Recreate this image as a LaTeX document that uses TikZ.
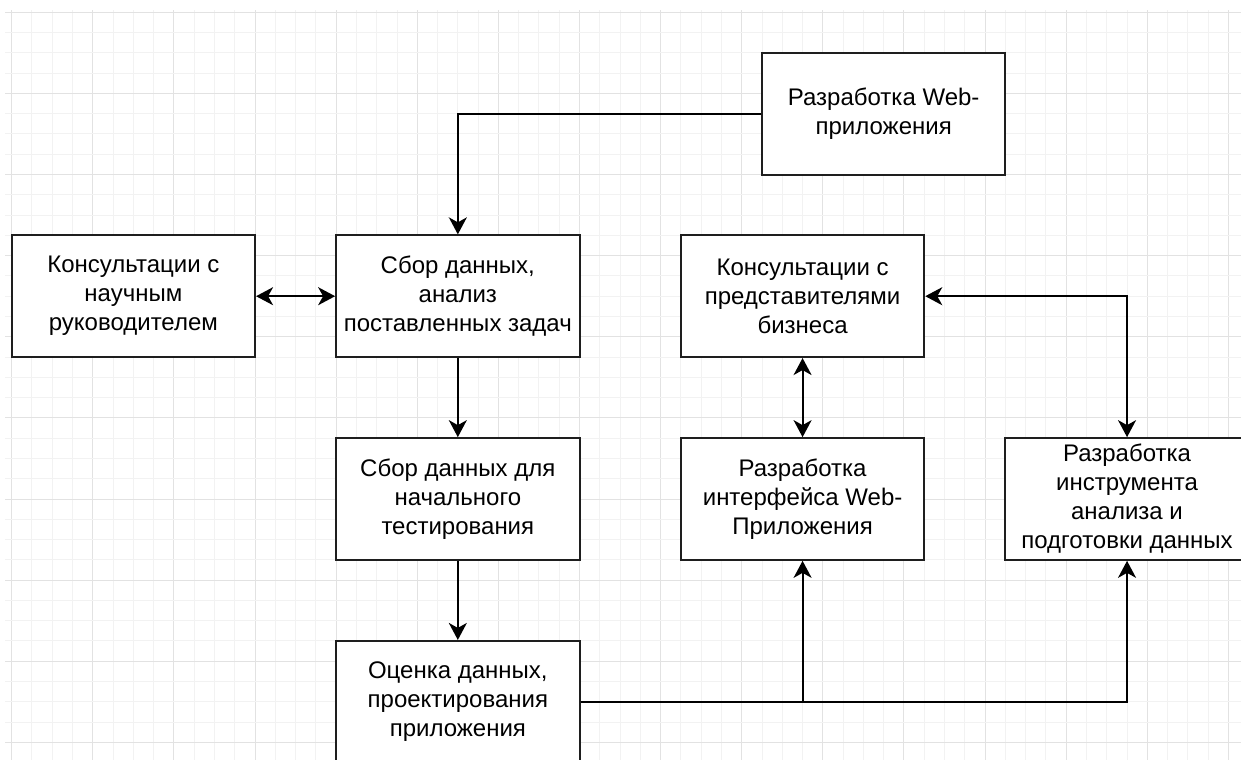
\documentclass[tikz,border=0pt]{standalone}
\usepackage{fontspec}
\setmainfont{Liberation Sans}
\usetikzlibrary{arrows.meta}
\definecolor{gridminor}{RGB}{242,242,242}
\definecolor{gridmajor}{RGB}{226,226,226}
\definecolor{boxline}{RGB}{30,30,30}
\begin{document}
\begin{tikzpicture}[x=20.28pt,y=-20.28pt,
  box/.style={draw=boxline,line width=2pt,fill=white,minimum width=243.4pt,minimum height=121.7pt,inner sep=0pt,align=center,font=\fontsize{24}{29}\selectfont},
  conn/.style={line width=2pt,-{Stealth[length=17pt,width=18pt,inset=5pt]}},
  bconn/.style={line width=2pt,{Stealth[length=17pt,width=18pt,inset=5pt]}-{Stealth[length=17pt,width=18pt,inset=5pt]}}]
\useasboundingbox (-0.577,-0.607) rectangle (60.62,36.87);
\clip (-0.577,-0.607) rectangle (60.62,36.87);
% grid
\foreach \i in {0,...,60}{
  \pgfmathtruncatemacro{\m}{mod(\i,4)}
  \ifnum\m=0 \def\gc{gridmajor}\else\def\gc{gridminor}\fi
  \draw[\gc,line width=1pt] (\i,-0.12) -- (\i,37.5);
}
\foreach \j in {0,...,36}{
  \pgfmathtruncatemacro{\m}{mod(\j,4)}
  \ifnum\m=0 \def\gc{gridmajor}\else\def\gc{gridminor}\fi
  \draw[\gc,line width=1pt] (-0.33,\j) -- (61.5,\j);
}
% boxes
\node[box] (b1) at (43,5) {Разработка Web-\\приложения};
\node[box] (b2) at (6,14) {Консультации с\\научным\\руководителем};
\node[box] (b3) at (22,14) {Сбор данных,\\анализ\\поставленных задач};
\node[box] (b4) at (39,14) {Консультации с\\представителями\\бизнеса};
\node[box] (b5) at (22,24) {Сбор данных для\\начального\\тестирования};
\node[box] (b6) at (39,24) {Разработка\\интерфейса Web-\\Приложения};
\node[box] (b7) at (55,24) {Разработка\\инструмента\\анализа и\\подготовки данных};
\node[box] (b8) at (22,34) {Оценка данных,\\проектирования\\приложения};
% connectors
\draw[conn] (b1.west) -| (b3.north);
\draw[bconn] (b2.east) -- (b3.west);
\draw[conn] (b3.south) -- (b5.north);
\draw[conn] (b5.south) -- (b8.north);
\draw[conn] (b8.east) -| (b6.south);
\draw[conn] (b8.east) -| (b7.south);
\draw[bconn] (b4.south) -- (b6.north);
\draw[bconn] (b4.east) -| (b7.north);
\end{tikzpicture}
\end{document}
